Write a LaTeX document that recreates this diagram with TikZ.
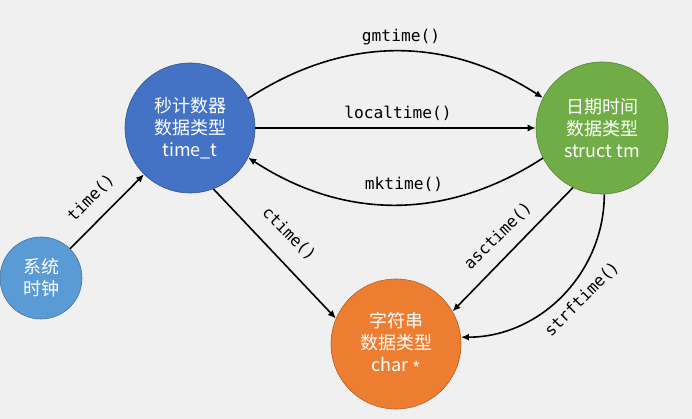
\documentclass[tikz,border=0pt]{standalone}
\usepackage{fontspec}
\setmainfont{Noto Sans CJK SC}
\newfontfamily\cjkfont{Noto Sans CJK SC}
\newfontfamily\monofont{DejaVu Sans Mono}
\usetikzlibrary{arrows.meta}
\definecolor{bgc}{HTML}{F0F0F0}
\definecolor{cblue}{HTML}{4472C4}
\definecolor{clight}{HTML}{5B9BD5}
\definecolor{cgreen}{HTML}{70AD47}
\definecolor{corange}{HTML}{ED7D31}
\begin{document}
\begin{tikzpicture}[x=1pt,y=1pt,
  state/.style={circle, draw=#1!75!black, fill=#1, line width=0.6pt, text=white,
    align=center, inner sep=0pt, font=\cjkfont\fontsize{18}{22}\selectfont},
  conn/.style={line width=1.6pt, -{Latex[length=8pt,width=7pt]}},
  lbl/.style={font=\monofont\fontsize{16.2}{18}\selectfont, inner sep=0pt}]
\fill[bgc] (0,0) rectangle (692,419);
\useasboundingbox (0,0) rectangle (692,419);

\node[state=cblue, minimum size=130pt] (t) at (190,291) {秒计数器\\数据类型\\time\_t};
\node[state=cgreen, minimum size=132pt] (g) at (602,291) {日期时间\\数据类型\\struct tm};
\node[state=clight, minimum size=82pt] (c) at (41,141) {系统\\时钟};
\node[state=corange, minimum size=130pt] (o) at (396,75) {字符串\\数据类型\\char \raisebox{-0.25em}{*}};

\draw[conn] (t.27) to[bend left=33] (g.153);
\draw[conn] (t.0) -- (g.180);
\draw[conn] (g.207) to[bend left=33] (t.333);
\draw[conn] (c) -- (t);
\draw[conn] (t.-69) -- (o.157);
\draw[conn] (g.-116) -- (o.30);
\draw[conn] (g.-88) to[bend left=45] (o.6);

\node[lbl] (l1) at (401,382) {gmtime()};
\node[lbl] (l2) at (398,306) {localtime()};
\node[lbl] (l3) at (404,235) {mktime()};
\node[lbl, rotate=45] (l4) at (91,221) {time()};
\node[lbl, rotate=-45] (l5) at (289,185) {ctime()};
\node[lbl, rotate=45] (l6) at (498,183) {asctime()};
\node[lbl, rotate=45] (l7) at (582,120) {strftime()};
\end{tikzpicture}
\end{document}
